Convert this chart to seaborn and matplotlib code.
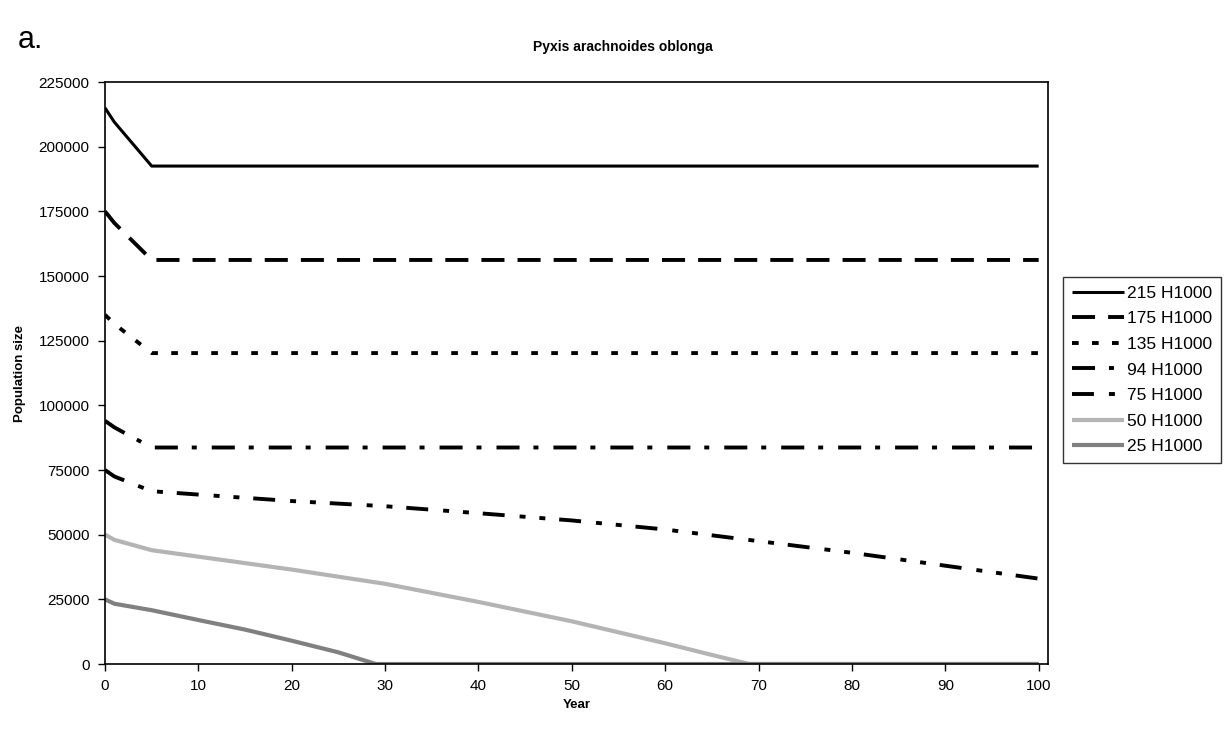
import matplotlib
matplotlib.use("Agg")
import matplotlib.pyplot as plt
import seaborn as sns
import pandas as pd

# ---- data ----
labels = ["215 H1000", "175 H1000", "135 H1000", "94 H1000", "75 H1000", "50 H1000", "25 H1000"]

years_215 = [0, 1, 5, 100]
pop_215 = [215000, 209500, 192500, 192500]

years_175 = [0, 1, 5, 100]
pop_175 = [175000, 170500, 156200, 156200]

years_135 = [0, 1, 5, 100]
pop_135 = [135000, 131500, 120200, 120200]

years_94 = [0, 1, 2, 5, 100]
pop_94 = [94000, 91500, 89500, 83700, 83700]

years_75 = [0, 1, 5, 10, 20, 30, 40, 50, 60, 70, 80, 90, 100]
pop_75 = [75000, 72500, 66800, 65500, 63000, 61000, 58300, 55500, 52000, 47500, 43000, 38000, 33000]

years_50 = [0, 1, 5, 10, 20, 30, 40, 50, 60, 65, 69, 100]
pop_50 = [50000, 48000, 44000, 41500, 36500, 31000, 24000, 16500, 8000, 3500, 0, 0]

years_25 = [0, 1, 5, 10, 15, 20, 25, 29, 100]
pop_25 = [25000, 23300, 20800, 17000, 13300, 9000, 4500, 0, 0]

x_ticks = [0, 10, 20, 30, 40, 50, 60, 70, 80, 90, 100]
y_ticks = [0, 25000, 50000, 75000, 100000, 125000, 150000, 175000, 200000, 225000]

# ---- styling ----
sns.set_style("ticks")
plt.rcParams["font.family"] = ["Liberation Sans", "DejaVu Sans"]
plt.rcParams["lines.scale_dashes"] = False
plt.rcParams["text.color"] = "black"
plt.rcParams["axes.labelcolor"] = "black"
plt.rcParams["xtick.color"] = "black"
plt.rcParams["ytick.color"] = "black"

series = [
    (years_215, pop_215, "#000000", 2.2, "-"),
    (years_175, pop_175, "#000000", 2.8, (0, (16.6, 9.4))),
    (years_135, pop_135, "#000000", 2.8, (0, (4.8, 9.6))),
    (years_94, pop_94, "#000000", 2.8, (0, (16.6, 10.0, 3.6, 10.8))),
    (years_75, pop_75, "#000000", 2.8, (0, (15.8, 10.8, 4.3, 10.0, 4.3, 10.0))),
    (years_50, pop_50, "#b4b4b4", 3.0, "-"),
    (years_25, pop_25, "#808080", 3.0, "-"),
]

fig = plt.figure(figsize=(12.31, 7.29), dpi=100)
ax = fig.add_axes([105 / 1231, 1 - 664 / 729, (1048 - 105) / 1231, (664 - 82) / 729])

for (yrs, vals, col, lw, ls), lab in zip(series, labels):
    df = pd.DataFrame({"Year": yrs, "Population size": vals})
    sns.lineplot(data=df, x="Year", y="Population size", ax=ax, color=col,
                 linewidth=lw, linestyle=ls, label=lab, solid_capstyle="butt",
                 dash_capstyle="butt")

ax.set_xlim(0, 101)
ax.set_ylim(0, 225000)
ax.set_xticks(x_ticks)
ax.set_yticks(y_ticks)
ax.tick_params(axis="both", labelsize=11, length=5, width=1, color="black",
               labelcolor="black", direction="out", pad=6)
for s in ax.spines.values():
    s.set_color("black")
    s.set_linewidth(1.2)

ax.set_xlabel("Year", fontsize=9.5, fontweight="bold", labelpad=4, color="black")
ax.set_ylabel("Population size", fontsize=9.5, fontweight="bold", labelpad=9, color="black")

fig.text(623 / 1231, 1 - 47 / 729, "Pyxis arachnoides oblonga", fontsize=10,
         fontweight="bold", ha="center", va="center", color="black")
fig.text(18 / 1231, 1 - 40 / 729, "a.", fontsize=22, ha="left", va="center", color="black")

leg = ax.legend(loc="upper left", bbox_to_anchor=(1063 / 1231, 1 - 277 / 729),
                bbox_transform=fig.transFigure, borderaxespad=0, frameon=True,
                fancybox=False, edgecolor="black", fontsize=12.5, handlelength=3.0,
                labelspacing=0.6, handletextpad=0.2, borderpad=0.5)
leg.get_frame().set_linewidth(1.0)
for t in leg.get_texts():
    t.set_color("black")

fig.savefig("out.png", dpi=100, facecolor="white")
